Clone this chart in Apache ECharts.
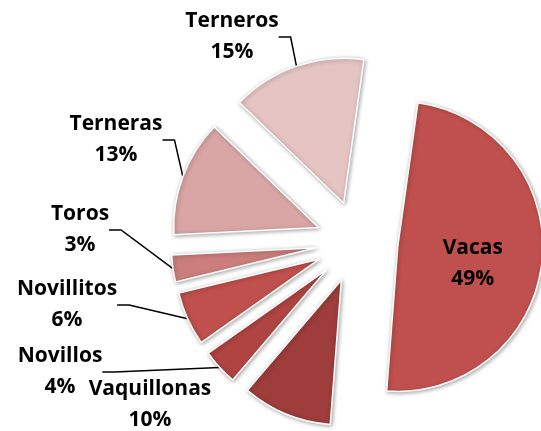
<!DOCTYPE html>
<html>
<head>
<meta charset="utf-8">
<script src="https://cdn.jsdelivr.net/npm/echarts@6/dist/echarts.min.js"></script>
<style>
  html, body { margin: 0; padding: 0; background: #fff; }
  #chart { width: 541px; height: 431px; }
</style>
</head>
<body>
<div id="chart"></div>
<script>
// categorias y porcentajes (en orden horario desde arriba)
var categories = ['Vacas', 'Vaquillonas', 'Novillos', 'Novillitos', 'Toros', 'Terneras', 'Terneros']
var values = [49, 10, 4, 6, 3, 13, 15]
var colors = ['#C0504D', '#9E3D3B', '#B04442', '#C0504D', '#CC7E7C', '#D9A6A5', '#E6C4C4']

// donde van las etiquetas de afuera (centro del texto)
var labelPos = {
  Vaquillonas: [150, 405],
  Novillos: [60, 372],
  Novillitos: [67, 305],
  Toros: [80, 230],
  Terneras: [116, 140],
  Terneros: [232, 37]
}

var pieCenter = [357, 242]
var pieRadius = 145
var explode = 41
var startDeg = 8 // grados en sentido horario desde las 12

var chart = echarts.init(document.getElementById('chart'))

var total = values.reduce(function (a, b) { return a + b }, 0)
var series = []
var acc = 0

// una serie por porcion para poder separarlas (explotado estilo Excel)
categories.forEach(function (name, i) {
  var mid = (startDeg + (acc + values[i] / 2) / total * 360) * Math.PI / 180
  acc += values[i]
  var cx = pieCenter[0] + explode * Math.sin(mid)
  var cy = pieCenter[1] - explode * Math.cos(mid)

  var data = categories.map(function (n, j) {
    if (j !== i) {
      return {
        name: n,
        value: values[j],
        itemStyle: { color: 'rgba(0,0,0,0)', borderWidth: 0, shadowBlur: 0, shadowColor: 'rgba(0,0,0,0)' },
        label: { show: false },
        labelLine: { show: false }
      }
    }
    var item = { name: n, value: values[j], itemStyle: { color: colors[j] } }
    if (n === 'Vacas') item.label = { position: 'inside' }
    if (n === 'Vaquillonas') item.labelLine = { show: false }
    return item
  })

  series.push({
    type: 'pie',
    name: name,
    center: [cx, cy],
    radius: pieRadius,
    startAngle: 90 - startDeg,
    clockwise: true,
    silent: true,
    avoidLabelOverlap: false,
    itemStyle: {
      borderColor: '#fff',
      borderWidth: 1.5,
      shadowBlur: 4,
      shadowColor: 'rgba(0,0,0,0.35)',
      shadowOffsetX: 1,
      shadowOffsetY: 1
    },
    label: {
      position: 'outside',
      formatter: '{b}\n{c}%',
      fontFamily: 'Open Sans',
      fontWeight: 'bold',
      fontSize: 21,
      lineHeight: 31,
      color: '#000',
      align: 'center'
    },
    labelLine: {
      show: true,
      length: 10,
      length2: 12,
      lineStyle: { color: '#000', width: 1.5 }
    },
    labelLayout: function (params) {
      var name = categories[params.dataIndex]
      if (name === 'Vacas') return { dy: 9 }
      var p = labelPos[name]
      if (!p) return {}
      return { x: p[0], y: p[1], align: 'center', verticalAlign: 'middle' }
    },
    emphasis: { disabled: true },
    data: data
  })
})

chart.setOption({ animation: false, series: series })
window.addEventListener('resize', chart.resize)
</script>
</body>
</html>
